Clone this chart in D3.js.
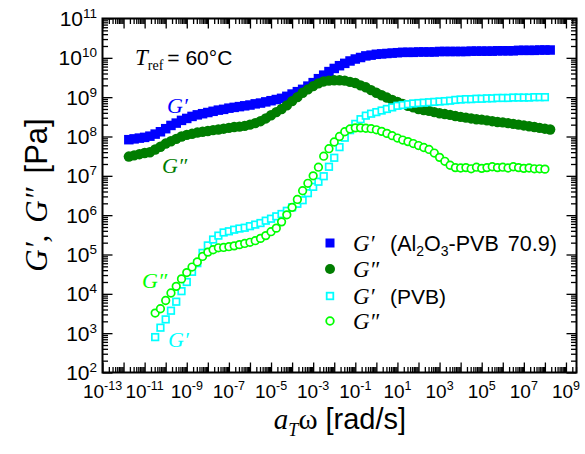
<!DOCTYPE html>
<html><head><meta charset="utf-8">
<script src="https://cdn.jsdelivr.net/npm/d3@7"></script>
<style>body{margin:0;background:#fff} svg{display:block}</style>
</head><body><svg id="c" width="585" height="454"></svg>
<script>
// ---- data ----
const xComposite = [
 1.778e-12,3.162e-12,5.623e-12,1e-11, 1.778e-11,3.162e-11,5.623e-11,1e-10,
 1.778e-10,3.162e-10,5.623e-10,1e-9, 1.778e-9,3.162e-9,5.623e-9,1e-8,
 1.778e-8,3.162e-8,5.623e-8,1e-7, 1.778e-7,3.162e-7,5.623e-7,1e-6,
 1.778e-6,3.162e-6,5.623e-6,1e-5, 1.778e-5,3.162e-5,5.623e-5,1e-4,
 1.778e-4,3.162e-4,5.623e-4,1e-3, 1.778e-3,3.162e-3,5.623e-3,1e-2,
 1.778e-2,3.162e-2,5.623e-2,1e-1, 0.1778,0.3162,0.5623,1,
 1.778,3.162,5.623,10, 17.78,31.62,56.23,100,
 177.8,316.2,562.3,1e3, 1.778e3,3.162e3,5.623e3,1e4,
 1.778e4,3.162e4,5.623e4,1e5, 1.778e5,3.162e5,5.623e5,1e6,
 1.778e6,3.162e6,5.623e6,1e7, 1.778e7,3.162e7,5.623e7,1e8,
 1.778e8];
const gPrimeComposite = [
 8.3e7,8.7e7,9.1e7,9.5e7, 1.02e8,1.15e8,1.32e8,1.58e8,
 1.91e8,2.19e8,2.57e8,2.88e8, 3.24e8,3.55e8,3.80e8,4.07e8,
 4.37e8,4.68e8,4.90e8,5.25e8, 5.50e8,5.75e8,6.03e8,6.31e8,
 6.76e8,7.08e8,7.59e8,8.13e8, 8.71e8,9.33e8,1.05e9,1.20e9,
 1.38e9,1.58e9,1.91e9,2.34e9, 2.95e9,3.63e9,4.47e9,5.37e9,
 6.31e9,7.24e9,8.32e9,9.33e9, 1.02e10,1.12e10,1.17e10,1.23e10,
 1.26e10,1.29e10,1.32e10,1.35e10, 1.38e10,1.38e10,1.38e10,1.41e10,
 1.41e10,1.41e10,1.41e10,1.45e10, 1.45e10,1.45e10,1.45e10,1.45e10,
 1.45e10,1.48e10,1.48e10,1.48e10, 1.48e10,1.48e10,1.51e10,1.51e10,
 1.51e10,1.51e10,1.55e10,1.55e10, 1.55e10,1.55e10,1.58e10,1.58e10,
 1.58e10];
const gDoublePrimeComposite = [
 3.09e7,3.31e7,3.55e7,3.80e7, 3.98e7,4.68e7,5.50e7,6.61e7,
 7.59e7,8.71e7,1.00e8,1.10e8, 1.17e8,1.26e8,1.32e8,1.38e8,
 1.45e8,1.51e8,1.58e8,1.66e8, 1.74e8,1.78e8,1.86e8,2.00e8,
 2.19e8,2.45e8,2.88e8,3.47e8, 4.17e8,5.01e8,6.17e8,7.94e8,
 1.00e9,1.29e9,1.58e9,1.91e9, 2.24e9,2.51e9,2.63e9,2.69e9,
 2.69e9,2.63e9,2.45e9,2.29e9, 2.00e9,1.78e9,1.51e9,1.29e9,
 1.12e9,9.77e8,8.51e8,7.59e8, 6.76e8,6.03e8,5.50e8,5.01e8,
 4.68e8,4.47e8,4.17e8,3.89e8, 3.72e8,3.55e8,3.31e8,3.16e8,
 3.02e8,2.88e8,2.75e8,2.69e8, 2.57e8,2.45e8,2.34e8,2.29e8,
 2.19e8,2.09e8,2.00e8,1.91e8, 1.82e8,1.74e8,1.66e8,1.58e8,
 1.51e8];
const xPVB = [
 3.162e-11,5.623e-11,1e-10,
 1.778e-10,3.162e-10,5.623e-10,1e-9, 1.778e-9,3.162e-9,5.623e-9,1e-8,
 1.778e-8,3.162e-8,5.623e-8,1e-7, 1.778e-7,3.162e-7,5.623e-7,1e-6,
 1.778e-6,3.162e-6,5.623e-6,1e-5, 1.778e-5,3.162e-5,5.623e-5,1e-4,
 1.778e-4,3.162e-4,5.623e-4,1e-3, 1.778e-3,3.162e-3,5.623e-3,1e-2,
 1.778e-2,3.162e-2,5.623e-2,1e-1, 0.1778,0.3162,0.5623,1,
 1.778,3.162,5.623,10, 17.78,31.62,56.23,100,
 177.8,316.2,562.3,1e3, 1.778e3,3.162e3,5.623e3,1e4,
 1.778e4,3.162e4,5.623e4,1e5, 1.778e5,3.162e5,5.623e5,1e6,
 1.778e6,3.162e6,5.623e6,1e7, 1.778e7,3.162e7,5.623e7,1e8];
const gPrimePVB = [
 7.94e2,1.38e3,2.24e3,
 3.72e3,6.31e3,1.17e4,2.00e4, 3.63e4,6.03e4,1.10e5,1.70e5,
 2.40e5,3.02e5,3.63e5,3.89e5, 4.27e5,4.57e5,4.79e5,5.25e5,
 5.75e5,6.31e5,7.24e5,8.13e5, 9.33e5,1.07e6,1.29e6,1.58e6,
 1.95e6,2.40e6,3.63e6,5.25e6, 7.08e6,9.77e6,1.70e7,2.88e7,
 5.37e7,9.33e7,1.45e8,2.09e8, 2.75e8,3.39e8,3.80e8,4.17e8,
 4.57e8,5.01e8,5.50e8,6.03e8, 6.31e8,6.61e8,6.92e8,7.08e8,
 7.24e8,7.41e8,7.59e8,7.76e8, 7.94e8,8.13e8,8.51e8,8.71e8,
 8.91e8,8.91e8,9.12e8,9.12e8, 9.33e8,9.33e8,9.55e8,9.55e8,
 9.55e8,9.77e8,9.77e8,9.77e8, 9.77e8,1.00e9,1.00e9,1.00e9];
const gDoublePrimePVB = [
 3.24e3,4.17e3,6.76e3,
 1.05e4,1.55e4,2.40e4,3.47e4, 4.79e4,6.46e4,8.91e4,1.15e5,
 1.32e5,1.48e5,1.51e5,1.58e5, 1.66e5,1.78e5,1.91e5,2.04e5,
 2.24e5,2.57e5,3.02e5,3.80e5, 4.68e5,6.76e5,1.02e6,1.58e6,
 2.51e6,4.17e6,6.46e6,1.00e7, 1.66e7,3.16e7,4.90e7,7.24e7,
 1.00e8,1.32e8,1.55e8,1.66e8, 1.66e8,1.62e8,1.58e8,1.48e8,
 1.35e8,1.20e8,1.05e8,9.12e7, 8.13e7,7.41e7,6.61e7,5.89e7,
 5.25e7,4.68e7,3.80e7,2.95e7, 2.34e7,1.86e7,1.62e7,1.58e7,
 1.62e7,1.51e7,1.66e7,1.55e7, 1.62e7,1.70e7,1.62e7,1.66e7,
 1.58e7,1.70e7,1.62e7,1.55e7, 1.58e7,1.51e7,1.51e7,1.48e7];
const xMajorExponents = [-13,-12,-11,-10,-9,-8,-7,-6,-5,-4,-3,-2,-1,0,1,2,3,4,5,6,7,8,9];
const xLabelExponents = [-13,-11,-9,-7,-5,-3,-1,1,3,5,7,9];
const yLabelExponents = [2,3,4,5,6,7,8,9,10,11];

// ---- layout ----
const L = 102.5, R = 576.5, T = 18.5, B = 372.5;
const svg = d3.select("#c");
const SANS = "'Liberation Sans', Arial, sans-serif";
const SERIF = "'Liberation Serif', 'Times New Roman', serif";

const x = d3.scaleLog().domain([1e-13, 3.162e9]).range([L, R]);
const y = d3.scaleLog().domain([1e2, 1e11]).range([B, T]);

const xMajors = xMajorExponents.map(e => Math.pow(10, e));
const xMinors = [];
xMajorExponents.forEach(e => { for (let k = 2; k <= 9; k++) { const v = k * Math.pow(10, e); if (v < x.domain()[1]) xMinors.push(v); } });
const yMajors = yLabelExponents.map(e => Math.pow(10, e));
const yMinors = [];
yLabelExponents.slice(0, -1).forEach(e => { for (let k = 2; k <= 9; k++) yMinors.push(k * Math.pow(10, e)); });

function styleAxis(g) {
  g.select(".domain").remove();
  g.selectAll(".tick line").attr("stroke", "#000").attr("stroke-width", 1.3);
  g.selectAll(".tick text").remove();
}
const MAJ = 10, MIN = 5.5;
[[d3.axisBottom, B, xMajors, MAJ], [d3.axisBottom, B, xMinors, MIN], [d3.axisTop, T, xMajors, MAJ], [d3.axisTop, T, xMinors, MIN]]
 .forEach(([fn, pos, vals, len]) => {
   svg.append("g").attr("transform", `translate(0,${pos})`)
     .call(fn(x).tickValues(vals).tickSize(-len).tickFormat(() => "")).call(styleAxis);
 });
[[d3.axisLeft, L, yMajors, MAJ], [d3.axisLeft, L, yMinors, MIN], [d3.axisRight, R, yMajors, MAJ], [d3.axisRight, R, yMinors, MIN]]
 .forEach(([fn, pos, vals, len]) => {
   svg.append("g").attr("transform", `translate(${pos},0)`)
     .call(fn(y).tickValues(vals).tickSize(-len).tickFormat(() => "")).call(styleAxis);
 });

svg.append("rect").attr("x", L).attr("y", T).attr("width", R - L).attr("height", B - T)
  .attr("fill", "none").attr("stroke", "#000").attr("stroke-width", 2);

function powLabel(t, e, sup) {
  t.append("tspan").text("10");
  t.append("tspan").attr("dy", -8).attr("font-size", sup).text(e < 0 ? "-" + (-e) : String(e));
}
xLabelExponents.forEach(e => {
  const t = svg.append("text").attr("x", x(Math.pow(10, e))).attr("y", 398)
    .attr("text-anchor", "middle").attr("font-family", SANS).attr("font-size", 19);
  powLabel(t, e, 12.5);
});
yLabelExponents.forEach(e => {
  const t = svg.append("text").attr("x", 97).attr("y", y(Math.pow(10, e)) + 7.5)
    .attr("text-anchor", "end").attr("font-family", SANS).attr("font-size", 21);
  powLabel(t, e, 13.5);
});

// ---- data marks ----
svg.append("clipPath").attr("id", "pc").append("rect")
  .attr("x", L).attr("y", T).attr("width", R - L).attr("height", B - T);
const plot = svg.append("g").attr("clip-path", "url(#pc)");
const BLUE = "#0000ff", DKGREEN = "#007d00", CYAN = "#00ffff", LTGREEN = "#00ff00";

function squares(xs, ys, size, fill, stroke, sw) {
  plot.append("g").selectAll("rect").data(xs.map((v, i) => [v, ys[i]])).join("rect")
    .attr("x", d => x(d[0]) - size / 2).attr("y", d => y(d[1]) - size / 2)
    .attr("width", size).attr("height", size)
    .attr("fill", fill).attr("stroke", stroke).attr("stroke-width", sw);
}
function circles(xs, ys, r, fill, stroke, sw) {
  plot.append("g").selectAll("circle").data(xs.map((v, i) => [v, ys[i]])).join("circle")
    .attr("cx", d => x(d[0])).attr("cy", d => y(d[1])).attr("r", r)
    .attr("fill", fill).attr("stroke", stroke).attr("stroke-width", sw);
}
squares(xComposite, gPrimeComposite, 9.5, BLUE, "none", 0);
circles(xComposite, gDoublePrimeComposite, 5.2, DKGREEN, "none", 0);
squares(xPVB, gPrimePVB, 6.6, "#fff", CYAN, 1.7);
circles(xPVB, gDoublePrimePVB, 3.8, "#fff", LTGREEN, 1.7);

// ---- annotations ----
function gText(xp, yp, s, col, size) {
  svg.append("text").attr("x", xp).attr("y", yp).attr("font-family", SERIF)
    .attr("font-style", "italic").attr("font-size", size).attr("fill", col).text(s);
}
gText(167, 113, "G\u2032", BLUE, 22);
gText(162, 173, "G\u2033", DKGREEN, 22);
gText(142, 288, "G\u2033", LTGREEN, 22);
gText(168, 347, "G\u2032", CYAN, 22);

const tr = svg.append("text").attr("x", 135).attr("y", 65).attr("font-size", 21);
tr.append("tspan").attr("font-family", SERIF).attr("font-style", "italic").attr("font-size", 23).text("T");
tr.append("tspan").attr("font-family", SERIF).attr("font-size", 14).attr("dy", 5).text("ref");
tr.append("tspan").attr("font-family", SANS).attr("dy", -5).attr("dx", 4).text("= 60\u00B0C");

// ---- legend ----
const legRows = [243, 269, 296, 321];
const lx0 = 330;
svg.append("rect").attr("x", lx0 - 4.5).attr("y", legRows[0] - 4.5).attr("width", 9).attr("height", 9).attr("fill", BLUE);
svg.append("circle").attr("cx", lx0).attr("cy", legRows[1]).attr("r", 5).attr("fill", DKGREEN);
svg.append("rect").attr("x", lx0 - 3.3).attr("y", legRows[2] - 3.3).attr("width", 6.6).attr("height", 6.6).attr("fill", "#fff").attr("stroke", CYAN).attr("stroke-width", 1.8);
svg.append("circle").attr("cx", lx0).attr("cy", legRows[3]).attr("r", 3.8).attr("fill", "#fff").attr("stroke", LTGREEN).attr("stroke-width", 1.8);
const legG = ["G\u2032", "G\u2033", "G\u2032", "G\u2033"];
legRows.forEach((ry, i) => {
  svg.append("text").attr("x", 353).attr("y", ry + 7.5).attr("font-family", SERIF)
    .attr("font-style", "italic").attr("font-size", 23).text(legG[i]);
});
const l1 = svg.append("text").attr("x", 390).attr("y", legRows[0] + 7.5).attr("font-family", SANS).attr("font-size", 21.5);
l1.append("tspan").text("(Al");
l1.append("tspan").attr("font-size", 14).attr("dy", 5).text("2");
l1.append("tspan").attr("dy", -5).text("O");
l1.append("tspan").attr("font-size", 14).attr("dy", 5).text("3");
l1.append("tspan").attr("dy", -5).text("-PVB");
l1.append("tspan").attr("dx", 9).text("70.9)");
svg.append("text").attr("x", 390).attr("y", legRows[2] + 7.5).attr("font-family", SANS).attr("font-size", 21).text("(PVB)");

// ---- axis titles ----
const yt = svg.append("text").attr("transform", "translate(47,195) rotate(-90)")
  .attr("text-anchor", "middle").attr("font-size", 31);
yt.append("tspan").attr("font-family", SERIF).attr("font-style", "italic").text("G\u2032,");
yt.append("tspan").attr("font-family", SERIF).attr("font-style", "italic").attr("dx", 12).text("G\u2033");
yt.append("tspan").attr("font-family", SANS).attr("dx", 14).text("[Pa]");

const xt = svg.append("text").attr("x", 340).attr("y", 429).attr("text-anchor", "middle").attr("font-size", 29);
xt.append("tspan").attr("font-family", SERIF).attr("font-style", "italic").text("a");
xt.append("tspan").attr("font-family", SERIF).attr("font-style", "italic").attr("font-size", 18).attr("dy", 7).text("T");
xt.append("tspan").attr("font-family", SERIF).attr("dy", -7).text("\u03C9");
xt.append("tspan").attr("font-family", SANS).text(" [rad/s]");
</script>
</body></html>
